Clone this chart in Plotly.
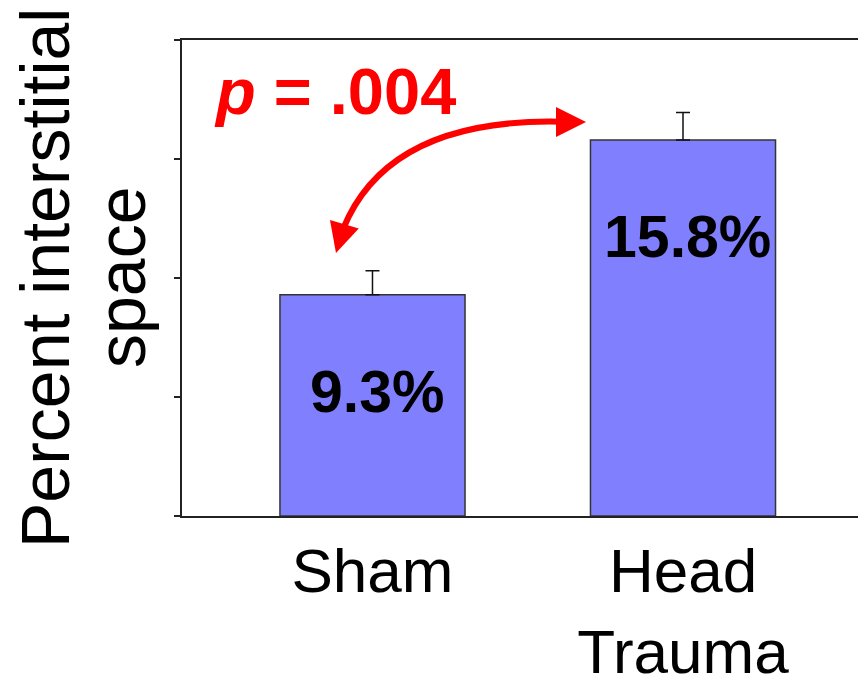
import plotly.graph_objects as go

# Data
groups = ["Sham", "Head<br>Trauma"]
positions = [0, 1]
values = [9.3, 15.8]
errors = [1.0, 1.15]
p_text = "<i>p</i> = .004"

FONT = "Liberation Sans, Arial, sans-serif"
BAR_FILL = "#8080FF"
RED = "#FF0000"

fig = go.Figure()
fig.add_trace(go.Bar(
    x=positions, y=values, width=0.596,
    marker=dict(color=BAR_FILL, line=dict(color="#333333", width=1.5)),
    error_y=dict(type="data", array=errors, arrayminus=[0] * len(errors),
                 symmetric=False, color="#111111", thickness=1.5, width=7),
    hoverinfo="skip", showlegend=False,
))

# value labels inside the bars
for xp, v in zip(positions, values):
    fig.add_annotation(x=xp + 0.015, y=v, yshift=-97, text=f"<b>{v}%</b>",
                       showarrow=False, xanchor="center", yanchor="middle",
                       font=dict(family=FONT, size=59, color="black"))

# significance label
fig.add_annotation(x=-0.12, y=17.85, text=f"<b>{p_text}</b>", showarrow=False,
                   xanchor="center", yanchor="middle",
                   font=dict(family=FONT, size=65, color=RED))

# curved double-headed arrow between the two groups
p0 = (-0.1095, 11.53)
p1 = (0.0242, 16.9)
p2 = (0.6457, 16.55)
fig.add_shape(type="path", xref="x", yref="y",
              path=f"M {p0[0]},{p0[1]} Q {p1[0]},{p1[1]} {p2[0]},{p2[1]}",
              line=dict(color=RED, width=6))
fig.add_annotation(x=-0.1176, y=11.05, ax=7, ay=-24, text="", showarrow=True,
                   arrowhead=2, arrowsize=1.0, arrowwidth=6, arrowcolor=RED,
                   standoff=0)
fig.add_annotation(x=0.6876, y=16.55, ax=-25, ay=0, text="", showarrow=True,
                   arrowhead=2, arrowsize=1.0, arrowwidth=6, arrowcolor=RED,
                   standoff=0)

# y-axis title as two rotated lines
fig.add_annotation(xref="paper", yref="paper", x=0, xshift=-182 + 45, y=0.5,
                   text="Percent interstitial", textangle=-90, showarrow=False,
                   xanchor="center", yanchor="middle",
                   font=dict(family=FONT, size=68, color="black"))
fig.add_annotation(xref="paper", yref="paper", x=0, xshift=-182 + 121, y=0.5,
                   text="space", textangle=-90, showarrow=False,
                   xanchor="center", yanchor="middle",
                   font=dict(family=FONT, size=68, color="black"))

fig.update_layout(
    width=858, height=688,
    margin=dict(l=182, r=0, t=40, b=172, autoexpand=False),
    paper_bgcolor="white", plot_bgcolor="white",
    font=dict(family=FONT, color="black"),
    xaxis=dict(range=[-0.6135, 1.5636], tickvals=positions, ticktext=groups,
               showline=True, linecolor="#222222", linewidth=1.5, mirror=True,
               ticks="", showgrid=False, zeroline=False, automargin=False,
               ticklabelstandoff=0,
               tickfont=dict(family=FONT, size=62, color="black")),
    yaxis=dict(range=[0, 20], tickvals=[0, 5, 10, 15, 20], showticklabels=False,
               ticks="outside", ticklen=6, tickwidth=1.5, tickcolor="#222222",
               showline=True, linecolor="#222222", linewidth=1.5,
               showgrid=False, zeroline=False, automargin=False),
)

fig.write_html("out.html")
